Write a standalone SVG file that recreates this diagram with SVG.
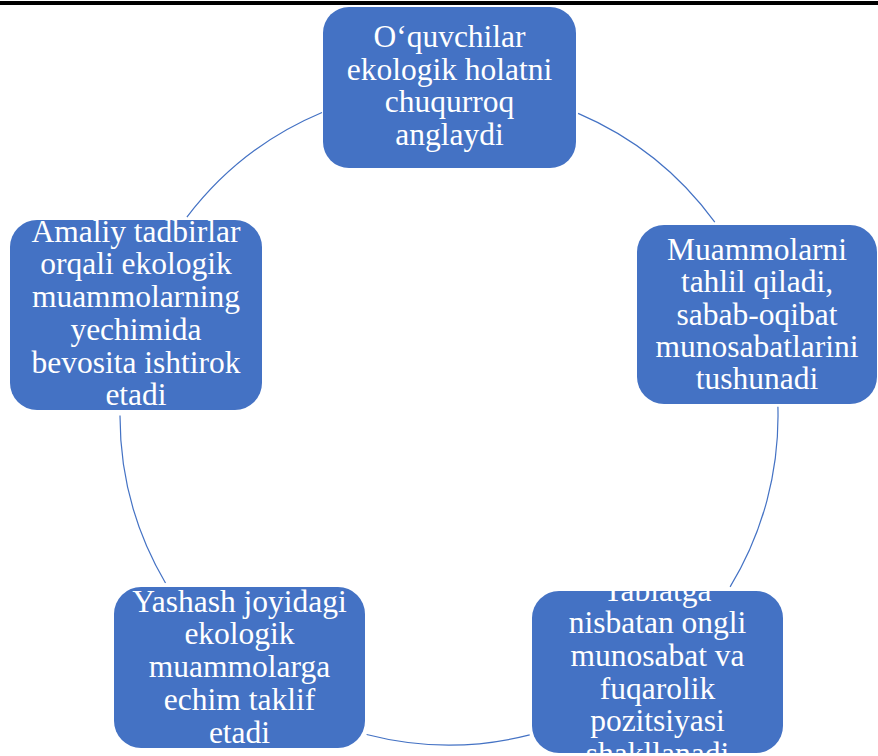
<svg xmlns="http://www.w3.org/2000/svg" width="878" height="756" viewBox="0 0 878 756">
<style>
.box{fill:#4472C4;}
.t{fill:#FFFFFF;font-family:"Liberation Serif","Times New Roman",serif;font-size:31.5px;text-anchor:middle;}
.arc{fill:none;stroke:#4472C4;stroke-width:1.2;}
</style>
<rect x="0" y="1" width="878" height="4" fill="#000000"/>
<g id="connectors">
<path class="arc" d="M578.1,113.4 A329,329 0 0 1 714.8,222.2"/>
<path class="arc" d="M777.9,406.8 A329,329 0 0 1 730.1,586.9"/>
<path class="arc" d="M529.7,734.9 A329,329 0 0 1 366.6,734.5"/>
<path class="arc" d="M165.5,583.0 A329,329 0 0 1 120,415.5"/>
<path class="arc" d="M186.9,217.1 A329,329 0 0 1 322.0,112.5"/>
</g>
<g id="node1">
<rect class="box" x="323" y="7" width="253" height="161" rx="26"/>
<text class="t" x="449.5" y="47">O‘quvchilar</text>
<text class="t" x="449.5" y="79.7">ekologik holatni</text>
<text class="t" x="449.5" y="112.4">chuqurroq</text>
<text class="t" x="449.5" y="145.1">anglaydi</text>
</g>
<g id="node2">
<rect class="box" x="637" y="225" width="240" height="179" rx="27"/>
<text class="t" x="757" y="260">Muammolarni</text>
<text class="t" x="757" y="292.3">tahlil qiladi,</text>
<text class="t" x="757" y="324.6">sabab-oqibat</text>
<text class="t" x="757" y="356.9">munosabatlarini</text>
<text class="t" x="757" y="389.2">tushunadi</text>
</g>
<g id="node3">
<rect class="box" x="532" y="591" width="251" height="162" rx="27"/>
<text class="t" x="657.5" y="600.6">Tabiatga</text>
<text class="t" x="657.5" y="633.3">nisbatan ongli</text>
<text class="t" x="657.5" y="666">munosabat va</text>
<text class="t" x="657.5" y="698.7">fuqarolik</text>
<text class="t" x="657.5" y="731.4">pozitsiyasi</text>
<text class="t" x="657.5" y="764.1">shakllanadi</text>
</g>
<g id="node4">
<rect class="box" x="114" y="587" width="251" height="161" rx="27"/>
<text class="t" x="239.5" y="611.7">Yashash joyidagi</text>
<text class="t" x="239.5" y="644.4">ekologik</text>
<text class="t" x="239.5" y="677.1">muammolarga</text>
<text class="t" x="239.5" y="709.8">echim taklif</text>
<text class="t" x="239.5" y="742.5">etadi</text>
</g>
<g id="node5">
<rect class="box" x="10" y="220" width="252" height="190" rx="27"/>
<text class="t" x="136" y="241.7">Amaliy tadbirlar</text>
<text class="t" x="136" y="274.4">orqali ekologik</text>
<text class="t" x="136" y="307.1">muammolarning</text>
<text class="t" x="136" y="339.8">yechimida</text>
<text class="t" x="136" y="372.5">bevosita ishtirok</text>
<text class="t" x="136" y="405.2">etadi</text>
</g>
</svg>
